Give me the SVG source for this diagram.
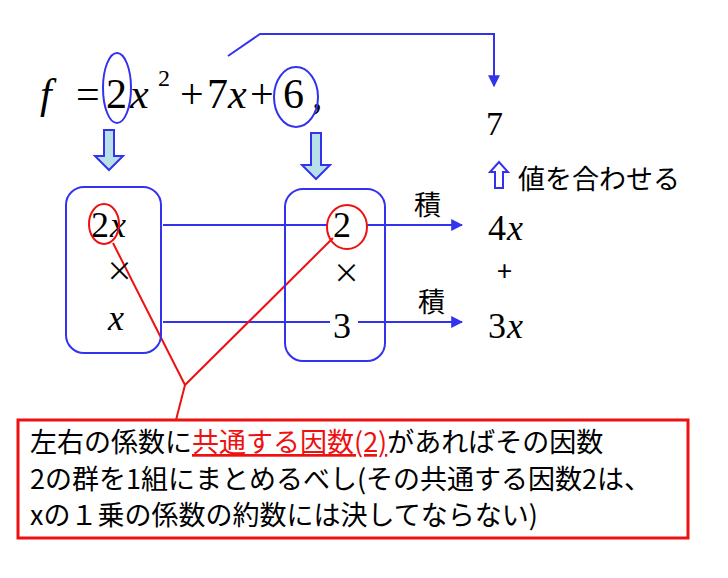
<svg xmlns="http://www.w3.org/2000/svg" width="728" height="578" viewBox="0 0 728 578">
<defs>
<marker id="ah" viewBox="0 0 10 10" refX="9" refY="5" markerWidth="6" markerHeight="6" orient="auto"><path d="M0,0L10,5L0,10z" fill="#3333ee"/></marker>
<style>
.m{font-family:"Liberation Serif","DejaVu Serif",serif;fill:#000}
.i{font-style:italic}
.b{stroke:#3333ee;stroke-width:2;fill:none}
.r{stroke:#ee1111;stroke-width:2;fill:none}
.j{font-family:"Noto Sans CJK JP","Liberation Sans",sans-serif;font-size:27px;fill:#000}
.blk{fill:#b8e0e8;stroke:#3333ee;stroke-width:2}
</style>
</defs>
<rect width="728" height="578" fill="#fff"/>
<g id="equation">
<text class="m i" font-size="42" x="40" y="108">f</text>
<text class="m" font-size="42" x="76" y="108">=</text>
<text class="m" font-size="42" x="106" y="108">2</text>
<text class="m i" font-size="42" x="130" y="108">x</text>
<text class="m" font-size="24" x="158" y="86">2</text>
<text class="m" font-size="42" x="180" y="108">+</text>
<text class="m" font-size="42" x="207" y="108">7</text>
<text class="m i" font-size="42" x="228" y="108">x</text>
<text class="m" font-size="42" x="250" y="108">+</text>
<text class="m" font-size="42" x="283" y="108">6</text>
<text class="m" font-size="42" x="312" y="108">,</text>
<ellipse class="b" cx="117" cy="88" rx="14" ry="35"/>
<ellipse class="b" cx="296" cy="97" rx="22" ry="30"/>
</g>
<g id="connectors">
<polyline class="b" points="228,56 260,34 494,34 494,86" marker-end="url(#ah)"/>
<path class="blk" d="M104,130h10v26h9l-14,14l-14,-14h9z"/>
<path class="blk" d="M311,133h10v32h9l-14,14l-14,-14h9z"/>
<path d="M499,162l-9,10h5v16h8v-16h5z" fill="#fff" stroke="#3333ee" stroke-width="2"/>
<line class="b" x1="163" y1="225" x2="328" y2="225"/>
<line class="b" x1="367" y1="225" x2="462" y2="225" marker-end="url(#ah)"/>
<line class="b" x1="163" y1="322" x2="330" y2="322"/>
<line class="b" x1="358" y1="322" x2="462" y2="322" marker-end="url(#ah)"/>
<polyline class="r" points="113,243 185,385 333,238"/>
<line class="r" x1="185" y1="385" x2="176" y2="420"/>
</g>
<g id="left-box">
<rect class="b" x="66" y="187" width="95" height="166" rx="18"/>
<text class="m" font-size="36" x="91" y="237">2</text>
<text class="m i" font-size="36" x="110" y="237">x</text>
<text class="j" font-size="20" x="106" y="281">×</text>
<text class="m i" font-size="36" x="108" y="330">x</text>
<ellipse class="r" cx="104" cy="224" rx="15" ry="20"/>
</g>
<g id="right-box">
<rect class="b" x="285" y="189" width="100" height="172" rx="18"/>
<text class="m" font-size="36" x="333" y="237">2</text>
<ellipse class="r" cx="347" cy="227" rx="20" ry="22"/>
<text class="j" font-size="20" x="333" y="283">×</text>
<text class="m" font-size="36" x="333" y="338">3</text>
</g>
<g id="results">
<text class="m" font-size="34" x="486" y="135">7</text>
<text class="j" font-size="28" x="518" y="189">値を合わせる</text>
<text class="j" font-size="22" x="414" y="215">積</text>
<text class="j" font-size="22" x="418" y="312">積</text>
<text class="m" font-size="36" x="488" y="240">4</text>
<text class="m i" font-size="36" x="507" y="240">x</text>
<text class="j" font-size="24" x="497" y="281">+</text>
<text class="m" font-size="36" x="488" y="338">3</text>
<text class="m i" font-size="36" x="507" y="338">x</text>
</g>
<g id="note">
<rect x="18" y="420" width="670" height="118" fill="#fff" stroke="#ee1111" stroke-width="3"/>
<text class="j" x="30" y="452">左右の係数に<tspan fill="#ee1111" text-decoration="underline">共通する因数(2)</tspan>があればその因数</text>
<text class="j" x="30" y="489">2の群を1組にまとめるべし(その共通する因数2は、</text>
<text class="j" x="30" y="525">xの１乗の係数の約数には決してならない)</text>
</g>
</svg>
